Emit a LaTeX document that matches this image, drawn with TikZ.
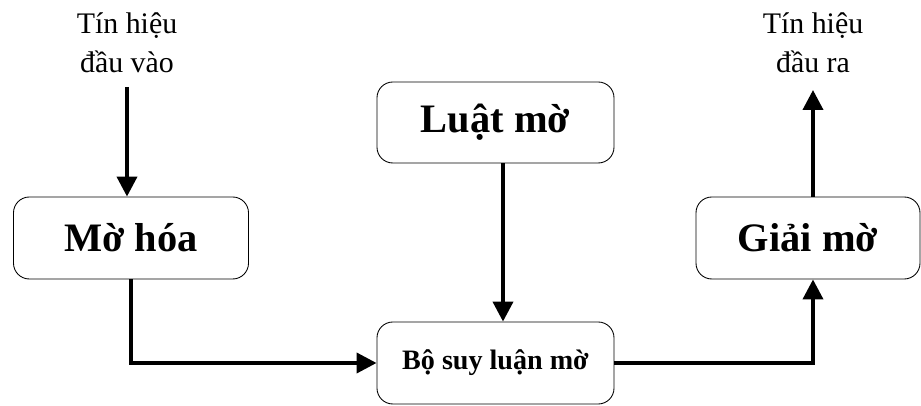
\documentclass[tikz,border=0pt]{standalone}
\usepackage{fontspec}
\setmainfont{Liberation Serif}
\usepackage{tikz}
\usetikzlibrary{arrows.meta, calc, positioning}

\tikzset{
  block/.style={draw, line width=0.5pt, rounded corners=9pt, align=center,
                inner sep=0pt, font=\bfseries\fontsize{23}{28}\selectfont},
  flow/.style={line width=2.2pt, -{Triangle[length=0.4cm, width=0.4cm]}},
  signal/.style={align=center, font=\fontsize{17}{22}\selectfont}
}

\begin{document}
\begin{tikzpicture}[x=0.02cm, y=0.02cm]
  \useasboundingbox (0,0) rectangle (921,406);
  % blocks
  \node[block, minimum width=235*0.02cm, minimum height=82*0.02cm] (mohoa) at (131,168) {Mờ hóa};
  \node[block, minimum width=237*0.02cm, minimum height=81*0.02cm] (luat) at (495.5,283.5) {Luật mờ};
  \node[block, minimum width=237*0.02cm, minimum height=82*0.02cm,
        font=\bfseries\fontsize{16}{20}\selectfont] (suyluan) at (495.5,43) {Bộ suy luận mờ};
  \node[block, minimum width=224*0.02cm, minimum height=82*0.02cm] (giai) at (808,168) {Giải mờ};
  % input / output signals
  \node[signal] (vao) at (127,363) {Tín hiệu\\đầu vào};
  \node[signal] (ra) at (813,363) {Tín hiệu\\đầu ra};
  \coordinate (vaoEnd) at (127,319);
  \coordinate (raEnd) at (813,316);
  % connectors
  \draw[flow] (vaoEnd) -- (vaoEnd |- mohoa.north);
  \draw[flow] (mohoa.south) |- (suyluan.west);
  \draw[flow] ([xshift=7.5*0.02cm]luat.south) -- ([xshift=7.5*0.02cm]suyluan.north);
  \draw[flow] (suyluan.east) -| ([xshift=5*0.02cm]giai.south);
  \draw[flow] ([xshift=5*0.02cm]giai.north) -- (raEnd);
\end{tikzpicture}
\end{document}
